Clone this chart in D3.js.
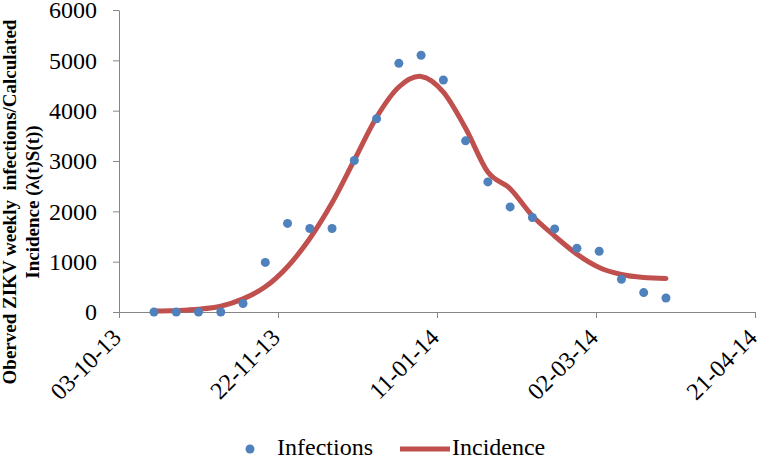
<!DOCTYPE html>
<html>
<head>
<meta charset="utf-8">
<script src="https://cdn.jsdelivr.net/npm/d3@7"></script>
<style>
  html, body { margin: 0; padding: 0; background: #fff; }
  svg { display: block; }
  text { font-family: "Liberation Serif", "DejaVu Serif", serif; }
</style>
</head>
<body>
<svg id="chart" width="760" height="456"></svg>
<script>
// ---- data ----
const weeks = ["2013-10-14","2013-10-21","2013-10-28","2013-11-04","2013-11-11","2013-11-18",
  "2013-11-25","2013-12-02","2013-12-09","2013-12-16","2013-12-23","2013-12-30",
  "2014-01-06","2014-01-13","2014-01-20","2014-01-27","2014-02-03","2014-02-10",
  "2014-02-17","2014-02-24","2014-03-03","2014-03-10","2014-03-17","2014-03-24"];
const infections = [0, 0, 0, 0, 170, 985, 1760, 1660, 1660, 3010, 3840, 4940,
  5100, 4610, 3400, 2585, 2088, 1877, 1651, 1267, 1207, 650, 386, 278];
const incidence = [20, 30, 55, 115, 260, 500, 900, 1460, 2170, 3020, 3870, 4470,
  4680, 4370, 3650, 2780, 2450, 1910, 1510, 1150, 885, 745, 685, 665];
const xTickDates = ["2013-10-03","2013-11-22","2014-01-11","2014-03-02","2014-04-21"];
const yTicks = [0, 1000, 2000, 3000, 4000, 5000, 6000];
const yLabelLines = ["Oberved ZIKV weekly  infections/Calculated", "Incidence (λ(t)S(t))"];
const legendLabels = ["Infections", "Incidence"];

// ---- setup ----
const parse = d3.utcParse("%Y-%m-%d");
const fmt = d3.utcFormat("%d-%m-%y");
const svg = d3.select("#chart");
const x = d3.scaleUtc()
  .domain([parse(xTickDates[0]), parse(xTickDates[xTickDates.length - 1])])
  .range([119, 755]);
const y = d3.scaleLinear().domain([0, 6000]).range([312, 10]);
const axisColor = "#868686";
const blue = "#4F81BD", red = "#C0504D";

// y axis
const yAxis = svg.append("g").attr("transform", "translate(119,0)")
  .call(d3.axisLeft(y).tickValues(yTicks).tickSize(6).tickSizeOuter(0).tickPadding(16).tickFormat(d3.format("d")));
yAxis.select(".domain").attr("stroke", axisColor);
yAxis.selectAll(".tick line").attr("stroke", axisColor);
yAxis.selectAll(".tick text").attr("font-size", 24).attr("fill", "#000")
  .attr("font-family", "Liberation Serif, serif");

// x axis
const xAxis = svg.append("g").attr("transform", "translate(0,312)")
  .call(d3.axisBottom(x).tickValues(xTickDates.map(parse)).tickSize(6).tickSizeOuter(0).tickFormat(fmt));
xAxis.select(".domain").attr("stroke", axisColor);
xAxis.selectAll(".tick line").attr("stroke", axisColor);
xAxis.selectAll(".tick text")
  .attr("font-size", 24).attr("fill", "#000").attr("font-family", "Liberation Serif, serif")
  .attr("text-anchor", "end").attr("y", 0).attr("dy", 0)
  .attr("transform", "translate(3,27) rotate(-45)");

// incidence line
const line = d3.line()
  .x((d, i) => x(parse(weeks[i])))
  .y(d => y(d))
  .curve(d3.curveCardinal.tension(0));
svg.append("path").datum(incidence)
  .attr("d", line).attr("fill", "none").attr("stroke", red)
  .attr("stroke-width", 5).attr("stroke-linecap", "round").attr("stroke-linejoin", "round");

// infection points
svg.append("g").selectAll("circle").data(infections).join("circle")
  .attr("cx", (d, i) => x(parse(weeks[i])))
  .attr("cy", d => y(d))
  .attr("r", 4.5)
  .attr("fill", blue);

// y label
const yl = svg.append("text")
  .attr("transform", "translate(0,202) rotate(-90)")
  .attr("text-anchor", "middle")
  .attr("font-weight", "bold").attr("font-size", 19).attr("fill", "#000")
  .attr("xml:space", "preserve");
yl.selectAll("tspan").data(yLabelLines).join("tspan")
  .attr("x", 0).attr("y", (d, i) => 16 + i * 23)
  .text(d => d);

// legend
const lg = svg.append("g");
lg.append("circle").attr("cx", 250).attr("cy", 449).attr("r", 4.5).attr("fill", blue);
lg.append("text").attr("x", 277).attr("y", 455).attr("font-size", 24).attr("fill", "#000").text(legendLabels[0]);
lg.append("line").attr("x1", 400).attr("x2", 450).attr("y1", 449).attr("y2", 449)
  .attr("stroke", red).attr("stroke-width", 5);
lg.append("text").attr("x", 452).attr("y", 455).attr("font-size", 24).attr("fill", "#000").text(legendLabels[1]);
</script>
</body>
</html>
